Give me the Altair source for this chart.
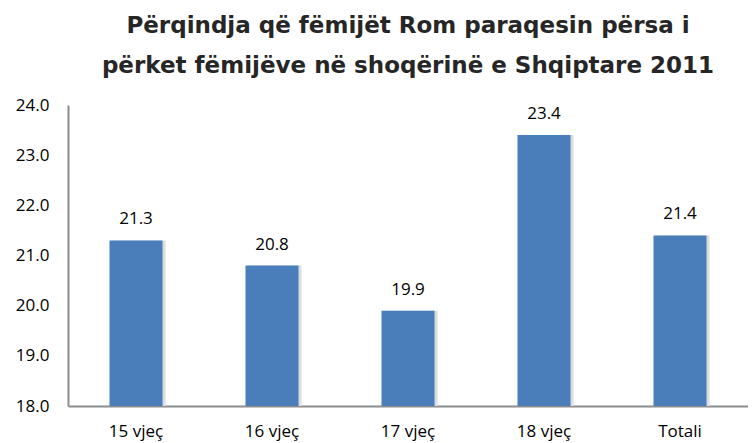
import altair as alt
import pandas as pd

categories = ["15 vjeç", "16 vjeç", "17 vjeç", "18 vjeç", "Totali"]
values = [21.3, 20.8, 19.9, 23.4, 21.4]
y_ticks = [18, 19, 20, 21, 22, 23, 24]
title_lines = ["Përqindja që fëmijët Rom paraqesin përsa i",
               "përket fëmijëve në shoqërinë e Shqiptare 2011"]

df = pd.DataFrame({"cat": categories, "val": values, "base": [y_ticks[0]] * len(values)})

x = alt.X("cat:N", sort=categories, title=None,
          scale=alt.Scale(paddingInner=0.61, paddingOuter=0.305),
          axis=alt.Axis(labelAngle=0, labelFontSize=17, labelColor="#000000",
                        labelFont="Open Sans", ticks=False, labelPadding=17,
                        domainColor="#8c8c8c", domainWidth=2))
y = alt.Y("val:Q", title=None,
          scale=alt.Scale(domain=[18, 24], nice=False, zero=False),
          axis=alt.Axis(values=y_ticks, format=".1f",
                        labelFontSize=17, labelColor="#000000", labelFont="Open Sans",
                        ticks=False, labelPadding=19, grid=False,
                        domainColor="#8c8c8c", domainWidth=2))
y2 = alt.Y2("base:Q")

base = alt.Chart(df)
shadow = base.mark_bar(color="#dcdcdc", xOffset=3).encode(x=x, y=y, y2=y2)
bars = base.mark_bar(color="#4a7ebb").encode(x=x, y=y, y2=y2)
labels = base.mark_text(baseline="alphabetic", dy=-16, fontSize=17, font="Open Sans",
                        color="#000000").encode(x=x, y=y, text=alt.Text("val:Q", format=".1f"))

chart = (shadow + bars + labels).properties(
    width=680, height=301,
    autosize=alt.AutoSizeParams(type="none"),
    padding={"left": 60, "top": 97, "right": 0, "bottom": 37},
    title=alt.Title(title_lines, fontSize=23, font="DejaVu Sans", fontWeight="bold",
                    color="#262626", anchor="middle", offset=18, lineHeight=40),
).configure_view(stroke=None)

chart.save("out.html", embed_options={"renderer": "svg", "actions": False})
